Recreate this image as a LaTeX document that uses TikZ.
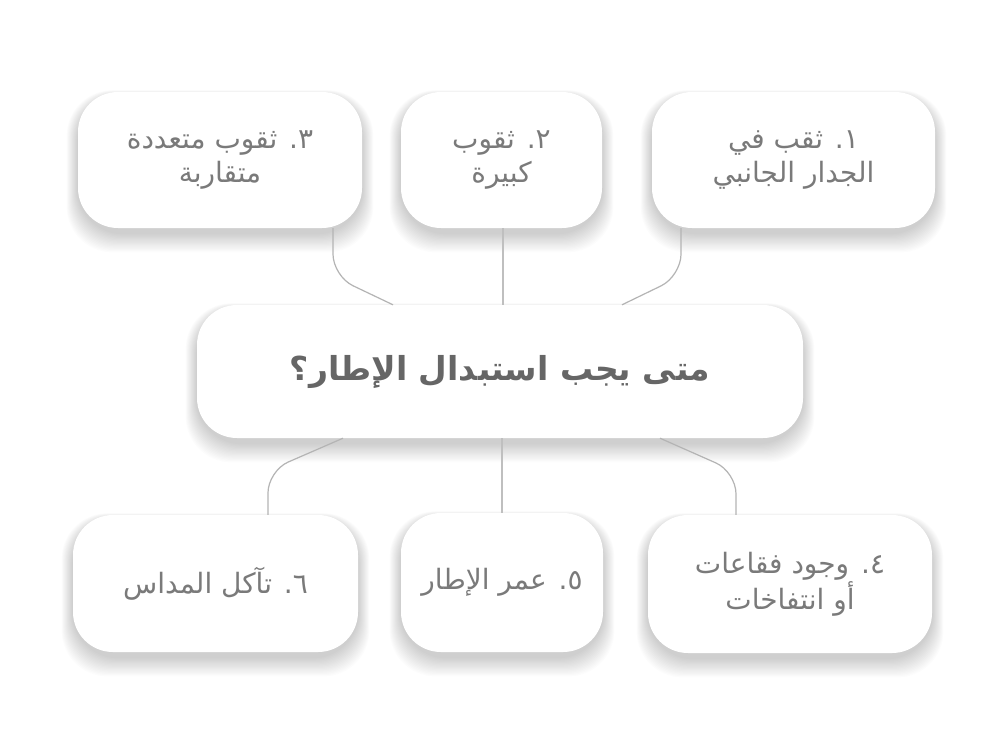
\documentclass[tikz,border=0pt]{standalone}
\usepackage{fontspec}
\newfontfamily\arabicfont[Script=Arabic]{DejaVu Sans}
\TeXXeTstate=1
\usetikzlibrary{calc}
\pgfdeclarelayer{bgl}
\pgfdeclarelayer{shadowl}
\pgfsetlayers{bgl,shadowl,main}
\definecolor{txtgray}{HTML}{7A7A7A}
\definecolor{titlegray}{HTML}{666666}
\definecolor{linegray}{HTML}{B4B4B4}
\tikzset{
  card/.style={rectangle, rounded corners=40pt, fill=white, inner sep=0pt,
    minimum height=136pt, align=center, text=txtgray,
    font=\arabicfont\fontsize{28}{34}\selectfont},
  titlecard/.style={card, minimum height=133pt, text=titlegray,
    font=\arabicfont\bfseries\fontsize{33}{38}\selectfont},
  conn/.style={draw=linegray, line width=1.2pt, rounded corners=22pt},
  stem/.style={draw=linegray!85, line width=1.8pt},
  shadowpiece/.style={fill=black, fill opacity=0.013, rounded corners=46pt}
}
\begin{document}
\begin{tikzpicture}[x=1pt,y=-1pt]
\begin{pgfonlayer}{bgl}
\fill[white] (0,0) rectangle (1000,750);
\end{pgfonlayer}
\path[use as bounding box] (0,0) rectangle (1000,750);

\node[card, minimum width=284pt] (b3) at (220,160) {\beginR ٣. ثقوب متعددة\endR\\\beginR متقاربة\endR};
\node[card, minimum width=201pt] (b2) at (501.5,160) {\beginR ٢. ثقوب\endR\\\beginR كبيرة\endR};
\node[card, minimum width=283pt] (b1) at (793.5,160) {\beginR ١. ثقب في\endR\\\beginR الجدار الجانبي\endR};

\node[titlecard, minimum width=606pt] (c) at (500,371.5) {\beginR متى يجب استبدال الإطار؟\endR};

\node[card, minimum width=285pt, minimum height=137pt] (b6) at (215.5,583.5) {\beginR ٦. تآكل المداس\endR};
\node[card, minimum width=202pt, minimum height=139pt] (b5) at (502,582.5) {\beginR ٥. عمر الإطار\endR};
\node[card, minimum width=284pt, minimum height=138pt] (b4) at (790,584) {\beginR ٤. وجود فقاعات\endR\\\beginR أو انتفاخات\endR};

\begin{pgfonlayer}{shadowl}
\foreach \n in {b1,b2,b3,c,b4,b5,b6}{
  \foreach \d in {1,...,16}{
    \path[shadowpiece] ($(\n.north west)+(-0.7*\d,4-0.35*\d)$) rectangle ($(\n.south east)+(0.7*\d,5+1.2*\d)$);
  }
}
\end{pgfonlayer}

\draw[conn] ($(b3.south)+(113,0)$) -- ($(b3.south)+(113,48)$) -- ($(c.north)+(-107,0)$);
\draw[stem] ($(b2.south)+(1.5,0)$) -- ($(c.north)+(3,0)$);
\draw[conn] ($(b1.south)+(-112.5,0)$) -- ($(b1.south)+(-112.5,48)$) -- ($(c.north)+(122,0)$);

\draw[conn] ($(c.south)+(-157,0)$) -- ($(b6.north)+(52.5,-44)$) -- ($(b6.north)+(52.5,0)$);
\draw[stem] ($(c.south)+(2,0)$) -- (b5.north);
\draw[conn] ($(c.south)+(160,0)$) -- ($(b4.north)+(-54,-43)$) -- ($(b4.north)+(-54,0)$);
\end{tikzpicture}
\end{document}
